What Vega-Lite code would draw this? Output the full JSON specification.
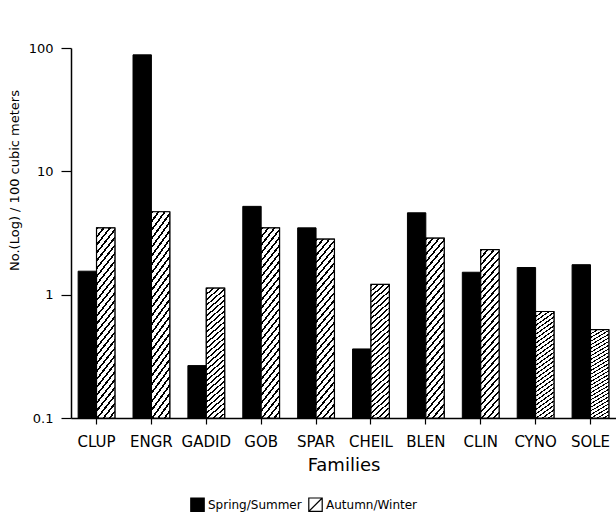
{
  "$schema": "https://vega.github.io/schema/vega-lite/v6.json",
  "width": 545,
  "height": 370,
  "autosize": {"type": "none"},
  "padding": {"left": 71, "top": 48, "right": 0, "bottom": 107},
  "background": "white",
  "config": {
    "view": {"stroke": null},
    "font": "DejaVu Sans",
    "axis": {"grid": false, "domainColor": "black", "tickColor": "black", "labelColor": "black", "titleColor": "black", "titleFontWeight": "normal", "labelFont": "DejaVu Sans", "titleFont": "DejaVu Sans"}
  },
  "data": {
    "values": [
      {"family": "CLUP", "season": "Spring/Summer", "value": 1.55},
      {"family": "CLUP", "season": "Autumn/Winter", "value": 3.48},
      {"family": "ENGR", "season": "Spring/Summer", "value": 88},
      {"family": "ENGR", "season": "Autumn/Winter", "value": 4.7},
      {"family": "GADID", "season": "Spring/Summer", "value": 0.266},
      {"family": "GADID", "season": "Autumn/Winter", "value": 1.13},
      {"family": "GOB", "season": "Spring/Summer", "value": 5.2},
      {"family": "GOB", "season": "Autumn/Winter", "value": 3.48},
      {"family": "SPAR", "season": "Spring/Summer", "value": 3.48},
      {"family": "SPAR", "season": "Autumn/Winter", "value": 2.82},
      {"family": "CHEIL", "season": "Spring/Summer", "value": 0.363},
      {"family": "CHEIL", "season": "Autumn/Winter", "value": 1.21},
      {"family": "BLEN", "season": "Spring/Summer", "value": 4.61},
      {"family": "BLEN", "season": "Autumn/Winter", "value": 2.87},
      {"family": "CLIN", "season": "Spring/Summer", "value": 1.52},
      {"family": "CLIN", "season": "Autumn/Winter", "value": 2.32},
      {"family": "CYNO", "season": "Spring/Summer", "value": 1.66},
      {"family": "CYNO", "season": "Autumn/Winter", "value": 0.73},
      {"family": "SOLE", "season": "Spring/Summer", "value": 1.75},
      {"family": "SOLE", "season": "Autumn/Winter", "value": 0.52}
    ]
  },
  "encoding": {
    "x": {
      "field": "family", "type": "nominal",
      "scale": {"domain": ["CLUP", "ENGR", "GADID", "GOB", "SPAR", "CHEIL", "BLEN", "CLIN", "CYNO", "SOLE"], "paddingInner": 0.33, "paddingOuter": 0.13},
      "axis": {"title": "Families", "labelAngle": 0, "labelOverlap": false, "tickSize": 6, "labelPadding": 10, "labelFontSize": 15, "titleFontSize": 18, "titlePadding": 7, "domainWidth": 1.5, "tickWidth": 1.2}
    },
    "xOffset": {"field": "season", "type": "nominal", "scale": {"domain": ["Spring/Summer", "Autumn/Winter"]}},
    "y": {
      "field": "value", "type": "quantitative", "stack": null,
      "scale": {"type": "log", "domain": [0.1, 100], "nice": false},
      "axis": {"title": "No.(Log) / 100 cubic meters", "values": [0.1, 1, 10, 100], "format": "~g", "tickSize": 10, "labelPadding": 8, "labelFontSize": 13, "titleFontSize": 13, "titleX": -50, "titleY": 132, "domainWidth": 1.5, "tickWidth": 1.2}
    }
  },
  "layer": [
    {
      "mark": {"type": "bar", "stroke": "black", "strokeWidth": 1},
      "encoding": {
        "fill": {
          "field": "season", "type": "nominal",
          "scale": {"domain": ["Spring/Summer", "Autumn/Winter"], "range": ["black", "white"]},
          "legend": {"title": null, "orient": "none", "legendX": 119, "legendY": 449, "direction": "horizontal", "symbolType": "M-1,-1H1V1H-1Z M-1,1L1,-1", "symbolSize": 180, "symbolStrokeColor": "black", "symbolStrokeWidth": 1.2, "labelFontSize": 12, "labelFont": "DejaVu Sans", "labelColor": "black", "columnPadding": 4, "labelOffset": 3}
        }
      }
    },
    {
      "transform": [{"filter": "datum.season === 'Autumn/Winter'"}],
      "mark": {
        "type": "bar", "stroke": "black", "strokeWidth": 1.2,
        "fill": {
          "gradient": "linear", "x1": 0, "y1": 0, "x2": 0.136, "y2": 1.106,
          "stops": [
            {"offset": 0, "color": "black"}, {"offset": 0.01222, "color": "black"}, {"offset": 0.01222, "color": "white"}, {"offset": 0.03704, "color": "white"},
            {"offset": 0.03704, "color": "black"}, {"offset": 0.04926, "color": "black"}, {"offset": 0.04926, "color": "white"}, {"offset": 0.07407, "color": "white"},
            {"offset": 0.07407, "color": "black"}, {"offset": 0.08630, "color": "black"}, {"offset": 0.08630, "color": "white"}, {"offset": 0.11111, "color": "white"},
            {"offset": 0.11111, "color": "black"}, {"offset": 0.12333, "color": "black"}, {"offset": 0.12333, "color": "white"}, {"offset": 0.14815, "color": "white"},
            {"offset": 0.14815, "color": "black"}, {"offset": 0.16037, "color": "black"}, {"offset": 0.16037, "color": "white"}, {"offset": 0.18519, "color": "white"},
            {"offset": 0.18519, "color": "black"}, {"offset": 0.19741, "color": "black"}, {"offset": 0.19741, "color": "white"}, {"offset": 0.22222, "color": "white"},
            {"offset": 0.22222, "color": "black"}, {"offset": 0.23444, "color": "black"}, {"offset": 0.23444, "color": "white"}, {"offset": 0.25926, "color": "white"},
            {"offset": 0.25926, "color": "black"}, {"offset": 0.27148, "color": "black"}, {"offset": 0.27148, "color": "white"}, {"offset": 0.29630, "color": "white"},
            {"offset": 0.29630, "color": "black"}, {"offset": 0.30852, "color": "black"}, {"offset": 0.30852, "color": "white"}, {"offset": 0.33333, "color": "white"},
            {"offset": 0.33333, "color": "black"}, {"offset": 0.34556, "color": "black"}, {"offset": 0.34556, "color": "white"}, {"offset": 0.37037, "color": "white"},
            {"offset": 0.37037, "color": "black"}, {"offset": 0.38259, "color": "black"}, {"offset": 0.38259, "color": "white"}, {"offset": 0.40741, "color": "white"},
            {"offset": 0.40741, "color": "black"}, {"offset": 0.41963, "color": "black"}, {"offset": 0.41963, "color": "white"}, {"offset": 0.44444, "color": "white"},
            {"offset": 0.44444, "color": "black"}, {"offset": 0.45667, "color": "black"}, {"offset": 0.45667, "color": "white"}, {"offset": 0.48148, "color": "white"},
            {"offset": 0.48148, "color": "black"}, {"offset": 0.49370, "color": "black"}, {"offset": 0.49370, "color": "white"}, {"offset": 0.51852, "color": "white"},
            {"offset": 0.51852, "color": "black"}, {"offset": 0.53074, "color": "black"}, {"offset": 0.53074, "color": "white"}, {"offset": 0.55556, "color": "white"},
            {"offset": 0.55556, "color": "black"}, {"offset": 0.56778, "color": "black"}, {"offset": 0.56778, "color": "white"}, {"offset": 0.59259, "color": "white"},
            {"offset": 0.59259, "color": "black"}, {"offset": 0.60481, "color": "black"}, {"offset": 0.60481, "color": "white"}, {"offset": 0.62963, "color": "white"},
            {"offset": 0.62963, "color": "black"}, {"offset": 0.64185, "color": "black"}, {"offset": 0.64185, "color": "white"}, {"offset": 0.66667, "color": "white"},
            {"offset": 0.66667, "color": "black"}, {"offset": 0.67889, "color": "black"}, {"offset": 0.67889, "color": "white"}, {"offset": 0.70370, "color": "white"},
            {"offset": 0.70370, "color": "black"}, {"offset": 0.71593, "color": "black"}, {"offset": 0.71593, "color": "white"}, {"offset": 0.74074, "color": "white"},
            {"offset": 0.74074, "color": "black"}, {"offset": 0.75296, "color": "black"}, {"offset": 0.75296, "color": "white"}, {"offset": 0.77778, "color": "white"},
            {"offset": 0.77778, "color": "black"}, {"offset": 0.79000, "color": "black"}, {"offset": 0.79000, "color": "white"}, {"offset": 0.81481, "color": "white"},
            {"offset": 0.81481, "color": "black"}, {"offset": 0.82704, "color": "black"}, {"offset": 0.82704, "color": "white"}, {"offset": 0.85185, "color": "white"},
            {"offset": 0.85185, "color": "black"}, {"offset": 0.86407, "color": "black"}, {"offset": 0.86407, "color": "white"}, {"offset": 0.88889, "color": "white"},
            {"offset": 0.88889, "color": "black"}, {"offset": 0.90111, "color": "black"}, {"offset": 0.90111, "color": "white"}, {"offset": 0.92593, "color": "white"},
            {"offset": 0.92593, "color": "black"}, {"offset": 0.93815, "color": "black"}, {"offset": 0.93815, "color": "white"}, {"offset": 0.96296, "color": "white"},
            {"offset": 0.96296, "color": "black"}, {"offset": 0.97519, "color": "black"}, {"offset": 0.97519, "color": "white"}, {"offset": 1, "color": "white"}
          ]
        }
      }
    }
  ]
}
